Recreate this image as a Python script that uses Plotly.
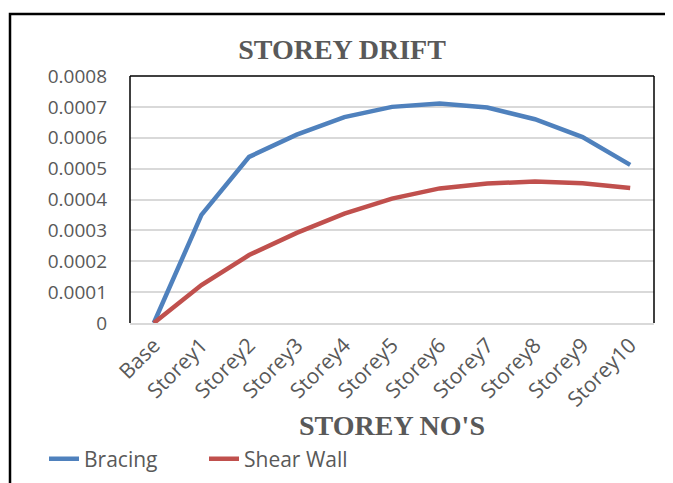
import plotly.graph_objects as go

categories = ["Base", "Storey1", "Storey2", "Storey3", "Storey4", "Storey5",
              "Storey6", "Storey7", "Storey8", "Storey9", "Storey10"]
bracing = [0, 0.00035, 0.000538, 0.00061, 0.000667, 0.0007,
           0.000711, 0.000698, 0.00066, 0.000602, 0.000512]
shear_wall = [0, 0.000123, 0.00022, 0.000292, 0.000354, 0.000403,
              0.000436, 0.000452, 0.000458, 0.000453, 0.000437]
y_ticks = [0, 0.0001, 0.0002, 0.0003, 0.0004, 0.0005, 0.0006, 0.0007, 0.0008]
y_labels = ["0", "0.0001", "0.0002", "0.0003", "0.0004", "0.0005", "0.0006", "0.0007", "0.0008"]

W, H = 673, 483
OFF = 8  # browser body margin
L, R, T, B = 130 - OFF, 19 + OFF, 76 - OFF, 160 + OFF
pw, ph = W - L - R, H - T - B

def px(x):
    return (x - OFF - L) / pw

def py(y):
    return (H - B - (y - OFF)) / ph

grey = "#595959"
sans = "Open Sans, Lato, sans-serif"
serif = "Liberation Serif, Times New Roman, serif"

fig = go.Figure()
fig.add_trace(go.Scatter(x=categories, y=bracing, mode="lines", name="Bracing",
                         line=dict(color="#4f81bd", width=4.5)))
fig.add_trace(go.Scatter(x=categories, y=shear_wall, mode="lines", name="Shear Wall",
                         line=dict(color="#c0504d", width=4.5)))

fig.update_layout(
    width=W, height=H,
    margin=dict(l=L, r=R, t=T, b=B, autoexpand=False),
    paper_bgcolor="white", plot_bgcolor="white",
    title=dict(text="<b>STOREY DRIFT</b>", x=(342 - OFF) / W, xanchor="center",
               y=1 - (49 - OFF) / H, yanchor="middle", yref="container",
               font=dict(family=serif, size=28, color=grey)),
    showlegend=True,
    legend=dict(orientation="h", x=px(44), xanchor="left", y=py(459), yanchor="middle",
                font=dict(family=sans, size=21, color=grey),
                bgcolor="rgba(0,0,0,0)", entrywidth=115, tracegroupgap=0),
    xaxis=dict(type="category", range=[-0.5, len(categories) - 0.5],
               showgrid=False, showline=True, linecolor="#d9d9d9", linewidth=1.5,
               ticks="", tickangle=-45,
               tickfont=dict(family=sans, size=21, color=grey), automargin=False),
    yaxis=dict(range=[0, 0.0008], tickvals=y_ticks, ticktext=y_labels,
               showgrid=True, gridcolor="#d9d9d9", gridwidth=1.5,
               zeroline=False, showline=False, ticks="",
               ticklabelstandoff=22,
               tickfont=dict(family=sans, size=19, color=grey), automargin=False),
    annotations=[dict(text="<b>STOREY NO'S</b>", xref="paper", yref="paper",
                      x=0.5, y=py(425), xanchor="center", yanchor="middle",
                      showarrow=False, font=dict(family=serif, size=28, color=grey))],
    shapes=[
        dict(type="line", xref="paper", yref="paper", x0=0, x1=0, y0=0, y1=1,
             line=dict(color="black", width=1.5)),
        dict(type="line", xref="paper", yref="paper", x0=0, x1=1, y0=1, y1=1,
             line=dict(color="black", width=1.5)),
        dict(type="line", xref="paper", yref="paper", x0=1, x1=1, y0=0, y1=1,
             line=dict(color="black", width=1.5)),
        dict(type="rect", xref="paper", yref="paper", x0=px(10), x1=px(700),
             y0=py(510), y1=py(14), line=dict(color="black", width=2.5),
             layer="below"),
    ],
)

fig.write_html("out.html")
